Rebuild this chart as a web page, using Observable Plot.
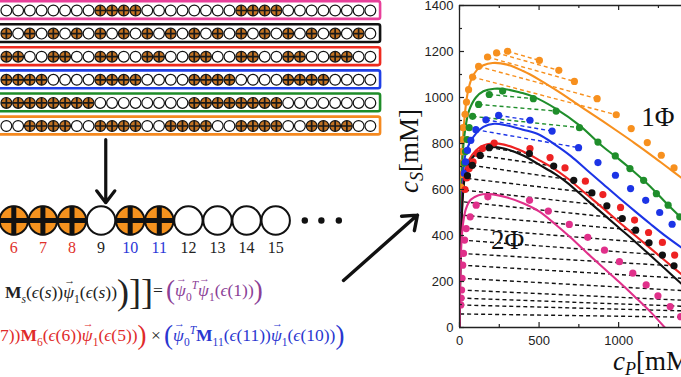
<!DOCTYPE html>
<html><head><meta charset="utf-8">
<script src="https://cdn.jsdelivr.net/npm/d3@7"></script>
<script src="https://cdn.jsdelivr.net/npm/@observablehq/plot@0.6"></script>
<style>
html,body{margin:0;padding:0;background:#fff;}
#wrap{position:relative;width:681px;height:377px;overflow:hidden;background:#fff;}
#wrap > svg{position:absolute;left:0;top:0;}
.t{position:absolute;font-family:"Liberation Serif","Times New Roman",serif;white-space:nowrap;line-height:1;}
.eq{font-size:17.5px;}
.eq sub,.eq sup{font-size:11.5px;}
.big{font-size:36px;vertical-align:-6px;}
.par{font-size:27px;vertical-align:-3px;}
.vec{position:relative;display:inline-block;font-style:italic;}
.vec::after{content:"\2192";position:absolute;left:1px;top:-9px;font-size:11px;font-style:normal;}
</style></head><body><div id="wrap"></div>
<script>
// ---------------- chart data ----------------
const xTickLabels = [0, 500, 1000];
const yTickLabels = [0, 200, 400, 600, 800, 1000, 1200, 1400];
const xMinorTicks = [250, 750, 1250];
const yMinorTicks = [100, 300, 500, 700, 900, 1100, 1300];

// dots (experiment)
const orangeDotsX = [302,233,176,120,82,57,44,35,23,19,15,12,10,8,502,624,722,865,985,1079,1180,1268,1348];
const orangeDotsY = [1201,1194,1176,1135,1089,1034,980,927,869,817,765,715,665,610,1161,1118,1070,995,925,865,804,749,694];
const greenDotsX = [271,187,120,82,61,48,38,30,464,607,754,870,979,1071,1157,1237,1311,1384];
const greenDotsY = [1028,1013,970,918,869,817,765,715,995,941,869,806,746,691,640,582,532,481];
const blueDotsX = [246,166,103,71,50,38,30,443,582,748,870,980,1075,1170,1258,1336];
const blueDotsY = [922,903,860,814,770,720,670,901,854,782,717,662,604,553,500,449];
const redDotsX = [218,145,113,85,61,45,35,443,569,663,791,901,1012,1100,1188,1275,1352];
const redDotsY = [802,778,756,720,691,650,600,778,739,694,636,578,522,467,413,370,315];
const blackDotsX = [187,130,80,50,439,592,718,832,926,1023,1107,1191,1275,1348];
const blackDotsY = [782,748,705,660,756,702,640,585,529,474,423,368,315,268];
const magentaDotsX = [178,105,67,42,32,25,20,16,13,10,8,440,558,690,806,911,1005,1089,1173,1247,1324,1390];
const magentaDotsY = [568,532,481,430,380,322,271,214,163,128,98,553,506,448,392,336,286,236,185,138,91,47];

// theory curves
const orangeCurveX = [0,5,12,20,30,50,75,110,150,208,300,400,500,600,700,800,900,1000,1100,1200,1300,1400];
const orangeCurveY = [0,400,650,800,900,1015,1080,1120,1140,1150,1143,1115,1078,1035,990,943,897,850,802,752,700,648];
const greenCurveX = [0,5,12,23,40,61,103,150,218,300,380,460,607,754,900,1000,1100,1200,1300,1400];
const greenCurveY = [0,380,600,780,880,945,1000,1027,1038,1035,1022,1005,951,879,787,733,675,612,540,472];
const blueCurveX = [0,5,12,22,35,61,103,150,218,300,400,502,600,700,800,900,1000,1100,1200,1300,1400];
const blueCurveY = [0,300,500,650,745,799,843,872,886,878,860,838,795,745,685,625,565,507,450,395,345];
const redCurveX = [0,5,12,22,35,61,103,150,200,280,400,500,600,676,800,900,1000,1100,1200,1300,1400];
const redCurveY = [0,250,450,600,680,730,770,792,800,795,765,728,688,650,578,520,460,402,344,286,228];
const blackCurveX = [0,5,12,22,35,61,103,150,200,280,400,500,600,676,800,900,1000,1100,1200,1300,1400];
const blackCurveY = [0,240,430,580,660,715,755,776,785,778,748,708,668,630,555,495,435,375,313,250,187];
const magentaCurveX = [0,3,8,15,25,40,70,120,190,300,400,500,600,700,800,900,1000,1100,1200,1290];
const magentaCurveY = [0,150,300,400,465,515,555,575,580,565,540,505,450,390,325,262,200,135,68,0];

// tie lines (dashed)
const orangeTieX1 = [302,233,176,120,82], orangeTieY1 = [1201,1194,1176,1135,1089];
const orangeTieX2 = [502,624,722,865,985], orangeTieY2 = [1161,1118,1070,995,925];
const greenTieX1 = [187,120,82], greenTieY1 = [1013,970,918];
const greenTieX2 = [464,607,754], greenTieY2 = [995,941,869];
const blueTieX1 = [246,166,103], blueTieY1 = [922,903,860];
const blueTieX2 = [443,582,748], blueTieY2 = [901,854,782];
const blackTieX1 = [187,130,80,50,35,28,25,20,16,13,11,9,8,6,5,4];
const blackTieY1 = [782,748,705,648,597,546,488,433,380,322,271,214,163,128,98,59];
const blackTieX2 = [439,592,718,832,926,1023,1107,1191,1275,1348,1420,1420,1420,1420,1420,1420];
const blackTieY2 = [756,702,640,585,529,474,423,368,315,268,213,160,118,92,72,45];

const phaseLabels = ["1Φ", "2Φ"];
const phaseX = [1247, 302];
const phaseY = [915, 380];

// ---------------- schematic data ----------------
const rowColors = ["#e8409a", "#111111", "#ee2a1f", "#1f3fe6", "#1e8c28", "#f5891f"];
const rowPatterns = [
  "WWWWWWWWCCCCWWWWWWWWCCCCWWWWWWWW",
  "CWCWCWCWCWCWCWCWCWCWCWCWCWCWCWCW",
  "CCWWCCWWCCWWCCWWCCWWCCWWCCWWCCWW",
  "CCCCWWWWCCCCWWWWCCCCWWWWCCCCWWWW",
  "CCCCCCCCWWWWWWWWCCCCCCCCWWWWWWWW",
  "WWCCCCWWCCCCWWCCCCWWCCCCWWCCCCWW"
];
const bigNumbers = [6, 7, 8, 9, 10, 11, 12, 13, 14, 15];
const bigCharged = [6, 7, 8, 10, 11];
const bigNumberColors = ["#e0302a","#e0302a","#e0302a","#222","#2a36d8","#2a36d8","#222","#222","#222","#222"];
const ellipsisX = [16.0, 16.57, 17.17];

// ---------------- build ----------------
const pts = (xs, ys) => xs.map((x, i) => ({x, y: ys[i]}));
const links = (a, b, c, d) => a.map((x1, i) => ({x1, y1: b[i], x2: c[i], y2: d[i]}));

const C = {orange:"#f7901e", green:"#1f8e2b", blue:"#1c34e6", red:"#ee2222", black:"#111111", magenta:"#e0308a"};
const series = [
  ["orange", orangeDotsX, orangeDotsY, orangeCurveX, orangeCurveY],
  ["green", greenDotsX, greenDotsY, greenCurveX, greenCurveY],
  ["blue", blueDotsX, blueDotsY, blueCurveX, blueCurveY],
  ["red", redDotsX, redDotsY, redCurveX, redCurveY],
  ["black", blackDotsX, blackDotsY, blackCurveX, blackCurveY],
  ["magenta", magentaDotsX, magentaDotsY, magentaCurveX, magentaCurveY]
];
const tieSets = [
  ["black", blackTieX1, blackTieY1, blackTieX2, blackTieY2],
  ["orange", orangeTieX1, orangeTieY1, orangeTieX2, orangeTieY2],
  ["green", greenTieX1, greenTieY1, greenTieX2, greenTieY2],
  ["blue", blueTieX1, blueTieY1, blueTieX2, blueTieY2]
];

const wrap = document.getElementById("wrap");
const FRAME_H = 377 - 5 - 50, FRAME_W = 681 - 459;

const chart = Plot.plot({
  width: 681, height: 377,
  marginLeft: 459, marginRight: 0, marginTop: 5, marginBottom: 50,
  x: {domain: [0, 1395], label: null},
  y: {domain: [0, 1400], label: null},
  style: {background: "transparent", overflow: "visible", fontFamily: "'Liberation Sans', Arial, sans-serif", fontSize: "13px", color: "#222"},
  marks: [
    ...tieSets.map(([c, a, b, cc, d]) => Plot.link(links(a, b, cc, d), {x1: "x1", y1: "y1", x2: "x2", y2: "y2", stroke: C[c], strokeWidth: 1.4, strokeDasharray: "4,3", clip: true})),
    ...series.map(([c, , , cx, cy]) => Plot.line(pts(cx, cy), {x: "x", y: "y", stroke: C[c], strokeWidth: 2.1, curve: "catmull-rom", clip: true})),
    ...series.map(([c, dx, dy]) => Plot.dot(pts(dx, dy), {x: "x", y: "y", r: 3.6, fill: C[c], clip: true})),
    Plot.ruleY([0, 1400], {stroke: "#222", strokeWidth: 1.3}),
    Plot.ruleX([0], {stroke: "#222", strokeWidth: 1.3}),
    Plot.tickX(xTickLabels, {insetTop: FRAME_H - 5, stroke: "#222", strokeWidth: 1.2}),
    Plot.tickX(xMinorTicks, {insetTop: FRAME_H - 3, stroke: "#222", strokeWidth: 1.2}),
    Plot.tickX(xTickLabels, {insetBottom: FRAME_H - 5, stroke: "#222", strokeWidth: 1.2}),
    Plot.tickX(xMinorTicks, {insetBottom: FRAME_H - 3, stroke: "#222", strokeWidth: 1.2}),
    Plot.tickY(yTickLabels, {insetRight: FRAME_W - 5, stroke: "#222", strokeWidth: 1.2}),
    Plot.tickY(yMinorTicks, {insetRight: FRAME_W - 3, stroke: "#222", strokeWidth: 1.2}),
    Plot.axisX({ticks: xTickLabels, tickSize: 0, tickPadding: 8, label: null, fontSize: 13, tickFormat: d3.format("d")}),
    Plot.axisY({ticks: yTickLabels, tickSize: 0, tickPadding: 6, label: null, fontSize: 13, tickFormat: d3.format("d")}),
    Plot.text(phaseLabels, {x: (d, i) => phaseX[i], y: (d, i) => phaseY[i], text: d => d, fontFamily: "'Liberation Serif', serif", fontSize: 27, fill: "#111"})
  ]
});
wrap.appendChild(chart);

// rows of beads
const beads = [];
rowPatterns.forEach((p, r) => { for (let i = 0; i < p.length; i++) beads.push({r, i, c: p[i]}); });
const rows = rowColors.map((col, r) => ({r, col}));
const rowsPlot = Plot.plot({
  width: 681, height: 377, margin: 0,
  x: {domain: [-0.5, 57.5], axis: null},
  y: {domain: [-0.433, 15.887], reverse: true, axis: null},
  style: {background: "transparent", overflow: "visible"},
  marks: [
    Plot.rect(rows, {x1: -2, x2: 31.87, y1: d => d.r - 0.385, y2: d => d.r + 0.385, fill: "white", stroke: d => d.col, strokeWidth: 2.6, rx: 2}),
    Plot.dot(beads, {x: "i", y: "r", r: 5.4, fill: d => d.c === "C" ? "#c27222" : "white", stroke: "#111", strokeWidth: 1.2}),
    Plot.dot(beads.filter(d => d.c === "C"), {x: "i", y: "r", symbol: "plus", r: 3.4, stroke: "#1a1a1a", strokeWidth: 1.7})
  ]
});
wrap.appendChild(rowsPlot);

// big bead row, numbers, arrows
const bigPlot = Plot.plot({
  width: 681, height: 377, margin: 0,
  x: {domain: [5.543, 28.945], axis: null},
  y: {domain: [-5.815, 8.148], axis: null},
  style: {background: "transparent", overflow: "visible"},
  marks: [
    Plot.arrow([{x1: 9.16, y1: 3.0, x2: 9.16, y2: 0.66}], {x1: "x1", y1: "y1", x2: "x2", y2: "y2", stroke: "#111", strokeWidth: 3.2, headLength: 7, headAngle: 75}),
    Plot.arrow([{x1: 17.33, y1: -2.22, x2: 19.87, y2: 0.2}], {x1: "x1", y1: "y1", x2: "x2", y2: "y2", stroke: "#111", strokeWidth: 3.4, headLength: 7, headAngle: 75}),
    Plot.dot(bigNumbers, {x: d => d, y: 0, r: 14.2, fill: d => bigCharged.includes(d) ? "#f5921e" : "white", stroke: "#111", strokeWidth: 2}),
    Plot.dot(bigCharged, {x: d => d, y: 0, symbol: "plus", r: 9.5, stroke: "#111", strokeWidth: 5}),
    Plot.dot(ellipsisX, {x: d => d, y: 0, r: 3.2, fill: "#111"}),
    Plot.text(bigNumbers, {x: d => d, y: -1, text: d => String(d), fill: (d, i) => bigNumberColors[i], fontFamily: "'Liberation Serif', serif", fontSize: 16})
  ]
});
wrap.appendChild(bigPlot);

// text overlays (axis titles and equations)
function addText(html, style, cls = "t") {
  const d = document.createElement("div");
  d.className = cls;
  d.innerHTML = html;
  Object.assign(d.style, style);
  wrap.appendChild(d);
  return d;
}
addText('<i>c</i><sub style="font-size:18px;vertical-align:-5px"><i>S</i></sub>[mM]', {left: "411px", top: "151px", fontSize: "27px", transform: "translate(-50%,-50%) rotate(-90deg)", color: "#111"});
addText('<i>c</i><sub style="font-size:18px;vertical-align:-5px"><i>P</i></sub>[mM]', {left: "613px", top: "348px", fontSize: "27px", color: "#111"});

const psi = '<span class="vec">ψ</span>';
addText('<b>M</b><sub><i>s</i></sub>(<i>ϵ</i>(<i>s</i>))' + psi + '<sub>1</sub>(<i>ϵ</i>(<i>s</i>))<span class="big">)</span><span class="big">]]</span>', {left: "5px", top: "274px", color: "#222"}, "t eq");
addText('=', {left: "153px", top: "282px", color: "#222"}, "t eq");
addText('<span class="par">(</span>' + psi + '<sub>0</sub><sup><i>T</i></sup>' + psi + '<sub>1</sub>(<i>ϵ</i>(1))<span class="par">)</span>', {left: "166px", top: "277px", color: "#8a3e96"}, "t eq");
addText('7))<b>M</b><sub>6</sub>(<i>ϵ</i>(6))' + psi + '<sub>1</sub>(<i>ϵ</i>(5))<span class="par">)</span>', {left: "0px", top: "322px", color: "#e02a2a"}, "t eq");
addText('×', {left: "151px", top: "327px", color: "#222"}, "t eq");
addText('<span class="par">(</span>' + psi + '<sub>0</sub><sup><i>T</i></sup><b>M</b><sub>11</sub>(<i>ϵ</i>(11))' + psi + '<sub>1</sub>(<i>ϵ</i>(10))<span class="par">)</span>', {left: "164px", top: "322px", color: "#2a36d0"}, "t eq");
</script></body></html>
